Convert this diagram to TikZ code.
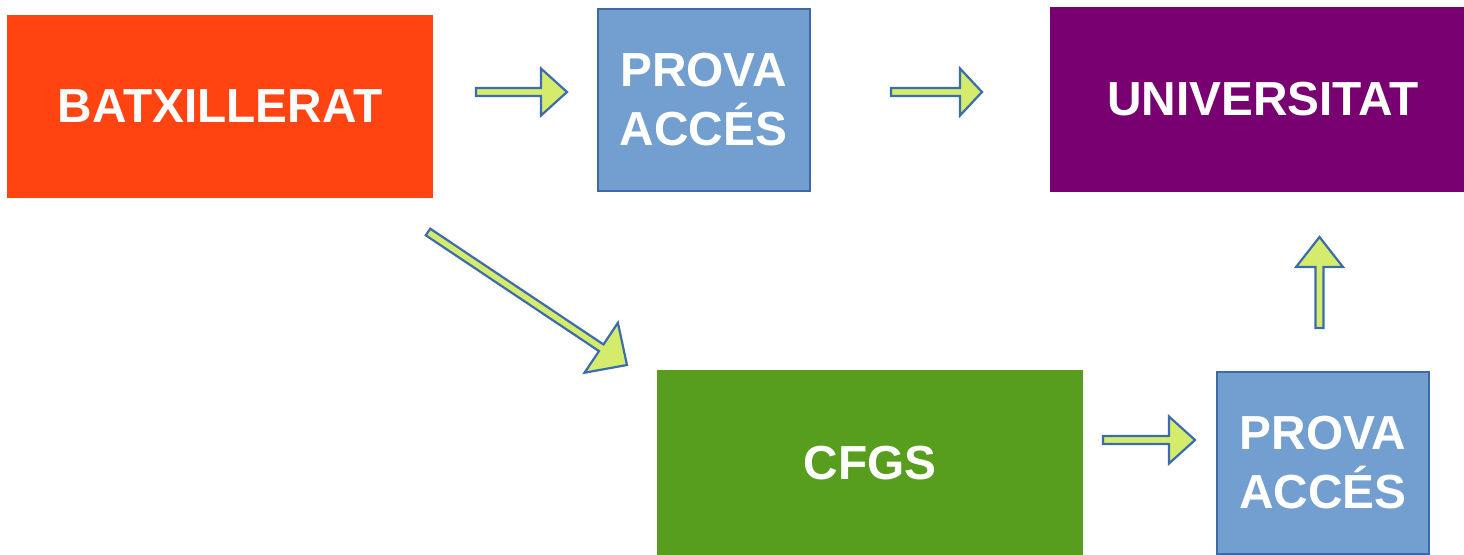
\documentclass[tikz,border=0pt]{standalone}
\usepackage{fontspec}
\setmainfont{Liberation Sans}
\usetikzlibrary{calc}
\definecolor{batxred}{HTML}{FF4411}
\definecolor{provablue}{HTML}{729FCF}
\definecolor{provaline}{HTML}{3D6AA6}
\definecolor{univpurple}{HTML}{790070}
\definecolor{cfgsgreen}{HTML}{589E1E}
\definecolor{arrowfill}{HTML}{D4EB6B}
\definecolor{arrowline}{HTML}{3D6BB0}
\newcommand{\shaftw}{2pt}
\tikzset{headlen/.store in=\headlen, headlen=13pt,
  headwing/.store in=\headwing, headwing=11.75pt}

\begin{document}
\begin{tikzpicture}[x=0.5pt,y=-0.5pt]
  \tikzstyle{every node}=[rectangle,text=white,align=center,inner sep=0pt,
    font=\bfseries\fontsize{23.9pt}{29.5pt}\selectfont]
  \tikzstyle{wide}=[minimum width=213pt,minimum height=91.5pt]
  \tikzstyle{prova}=[fill=provablue,draw=provaline,line width=1pt,
    minimum width=106pt,minimum height=91pt]
  \tikzstyle{blockarrow}=[draw=arrowline,fill=arrowfill,line width=1.1pt,
    to path={($(\tikztostart)!\shaftw!90:(\tikztotarget)$)
      -- ($(\tikztotarget)!\headlen!(\tikztostart)!\shaftw!-90:(\tikztostart)$)
      -- ($(\tikztotarget)!\headlen!(\tikztostart)!\headwing!-90:(\tikztostart)$)
      -- (\tikztotarget)
      -- ($(\tikztotarget)!\headlen!(\tikztostart)!\headwing!90:(\tikztostart)$)
      -- ($(\tikztotarget)!\headlen!(\tikztostart)!\shaftw!90:(\tikztostart)$)
      -- ($(\tikztostart)!\shaftw!-90:(\tikztotarget)$)
      -- cycle}]
  \useasboundingbox (0,0) rectangle (1464,554);
  % boxes
  \node[wide,fill=batxred] (batx) at (220,106.5) {BATXILLERAT};
  \node[prova] (prova1) at (703.5,99.5) {PROVA\\ACCÉS};
  \node[wide,fill=univpurple,minimum height=92.5pt] (univ) at (1263,99.5) {UNIVERSITAT};
  \node[wide,fill=cfgsgreen,minimum height=93pt] (cfgs) at (870,463) {CFGS};
  \node[prova] (prova2) at (1323,462.5) {PROVA\\ACCÉS};
  % arrow ends
  \coordinate (batx-out) at (476,92);
  \coordinate (prova1-in) at (567,92);
  \coordinate (prova1-out) at (891,92);
  \coordinate (univ-in) at (982,92);
  \coordinate (batx-down) at (428,232);
  \coordinate (cfgs-in) at (627,365);
  \coordinate (cfgs-out) at (1103,440);
  \coordinate (prova2-in) at (1195,440);
  \coordinate (prova2-out) at (1319.5,328);
  \coordinate (univ-up) at (1319.5,237);
  % arrows
  \draw[blockarrow] (batx-out) to (prova1-in);
  \draw[blockarrow,headlen=11pt] (prova1-out) to (univ-in);
  \draw[blockarrow,headlen=15.5pt,headwing=15pt] (batx-down) to (cfgs-in);
  \draw[blockarrow] (cfgs-out) to (prova2-in);
  \draw[blockarrow,headlen=15pt] (prova2-out) to (univ-up);
\end{tikzpicture}
\end{document}
